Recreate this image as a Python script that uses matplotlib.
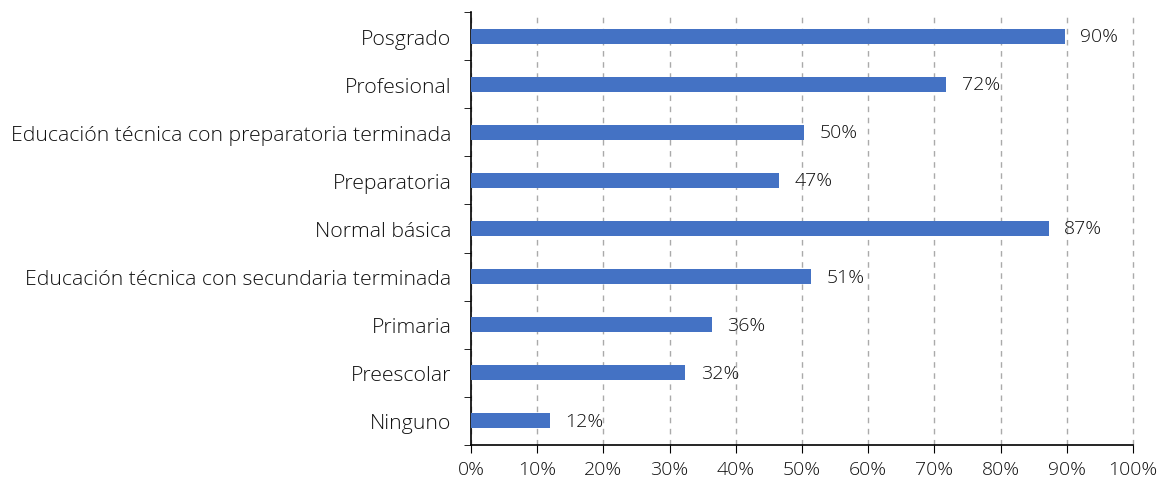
import matplotlib
matplotlib.use("Agg")
import matplotlib.pyplot as plt
import numpy as np

categorias = ['Posgrado', 'Profesional', 'Educación técnica con preparatoria terminada',
              'Preparatoria', 'Normal básica', 'Educación técnica con secundaria terminada',
              'Primaria', 'Preescolar', 'Ninguno']
# valores (porcentaje)
valores = [89.7, 71.8, 50.3, 46.6, 87.3, 51.4, 36.4, 32.4, 11.9]
etiquetas = ['90%', '72%', '50%', '47%', '87%', '51%', '36%', '32%', '12%']
xticks = [0, 10, 20, 30, 40, 50, 60, 70, 80, 90, 100]

plt.rcParams['font.family'] = ['Open Sans', 'DejaVu Sans']
plt.rcParams['font.weight'] = 'light'
texto = '#111111'

fig = plt.figure(figsize=(11.59, 4.81), dpi=100)
ax = fig.add_axes([471 / 1159, 35 / 481, 662 / 1159, 433 / 481])

y = np.arange(len(categorias))[::-1]
ax.barh(y, valores, height=0.31, color='#4472C4', zorder=3)

for yi, v, et in zip(y, valores, etiquetas):
    ax.text(v + 2.3, yi, et, va='center', ha='left', fontsize=14, color=texto)

ax.set_xlim(0, 100)
ax.set_ylim(-0.5, len(categorias) - 0.5)
ax.set_xticks(xticks)
ax.set_xticklabels([f'{t}%' for t in xticks], fontsize=14, color=texto)
ax.set_yticks(y)
ax.set_yticklabels(categorias, fontsize=15.3, color=texto)
ax.tick_params(axis='y', length=0, pad=14)
ax.set_yticks(np.arange(-0.5, len(categorias)), minor=True)
ax.tick_params(axis='y', which='minor', length=5, direction='out')
ax.tick_params(axis='x', length=6, direction='out', pad=5)

ax.xaxis.grid(True, linestyle=(0, (4, 4)), color='#aaaaaa', linewidth=1, zorder=0)
for gl in ax.get_xgridlines():
    gl.set_clip_on(False)
for s in ['top', 'right']:
    ax.spines[s].set_visible(False)
for s in ['left', 'bottom']:
    ax.spines[s].set_color('black')
    ax.spines[s].set_linewidth(1.2)

fig.savefig('out.png', dpi=100)
